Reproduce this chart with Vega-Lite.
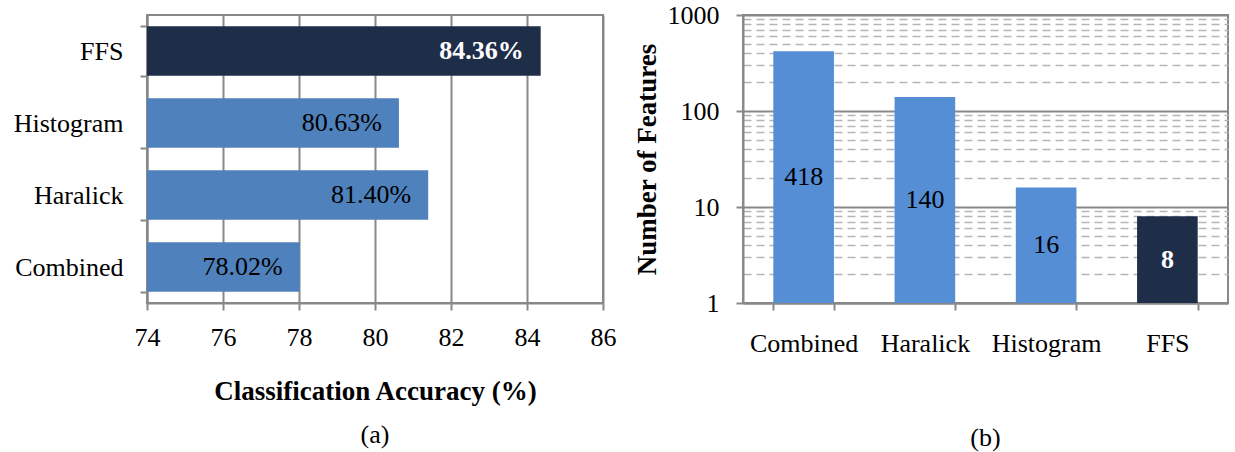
{
  "$schema": "https://vega.github.io/schema/vega-lite/v6.json",
  "background": "white",
  "padding": {"left": 12, "top": 1, "right": 5, "bottom": 5},
  "bounds": "flush",
  "spacing": 140,
  "datasets": {
    "results": [
      {"method": "Combined", "accuracy": 78.02, "label": "78.02%", "features": 418},
      {"method": "Haralick", "accuracy": 81.40, "label": "81.40%", "features": 140},
      {"method": "Histogram", "accuracy": 80.63, "label": "80.63%", "features": 16},
      {"method": "FFS", "accuracy": 84.36, "label": "84.36%", "features": 8}
    ]
  },
  "config": {
    "font": "Liberation Serif",
    "view": {"stroke": "#888888", "strokeWidth": 2},
    "axis": {
      "labelFont": "Liberation Serif",
      "labelFontSize": 26,
      "labelColor": "#000000",
      "titleFont": "Liberation Serif",
      "titleFontSize": 27,
      "titleFontWeight": "bold",
      "titleColor": "#000000",
      "domainColor": "#888888",
      "domainWidth": 2,
      "tickColor": "#888888",
      "tickWidth": 2,
      "tickSize": 7,
      "labelPadding": 17
    }
  },
  "hconcat": [
    {
      "width": 456,
      "height": 288,
      "data": {"name": "results"},
      "title": {"text": "(a)", "orient": "bottom", "offset": 18, "fontSize": 26, "font": "Liberation Serif", "fontWeight": "normal", "anchor": "middle", "color": "#000000"},
      "layer": [
        {
          "mark": {"type": "bar", "clip": true},
          "encoding": {
            "y": {"field": "method", "type": "nominal", "sort": ["FFS", "Histogram", "Haralick", "Combined"],
                  "scale": {"paddingInner": 0.31, "paddingOuter": 0.155},
                  "axis": {"title": null, "tickBand": "extent", "grid": false, "labelPadding": 17}},
            "x": {"field": "accuracy", "type": "quantitative",
                  "scale": {"domain": [74, 86], "zero": false, "nice": false},
                  "axis": {"values": [74, 76, 78, 80, 82, 84, 86], "title": "Classification Accuracy (%)", "grid": true, "gridColor": "#888888", "gridWidth": 2, "labelPadding": 14, "titlePadding": 28, "labelFlush": false}},
            "color": {"condition": {"test": "datum.method === 'FFS'", "value": "#1F2E48"}, "value": "#4F81BD"}
          }
        },
        {
          "transform": [{"filter": "datum.method !== 'FFS'"}],
          "mark": {"type": "text", "align": "right", "baseline": "middle", "dx": -17, "fontSize": 26, "font": "Liberation Serif", "color": "#000000"},
          "encoding": {
            "y": {"field": "method", "type": "nominal", "sort": ["FFS", "Histogram", "Haralick", "Combined"]},
            "x": {"field": "accuracy", "type": "quantitative"},
            "text": {"field": "label"}
          }
        },
        {
          "transform": [{"filter": "datum.method === 'FFS'"}],
          "mark": {"type": "text", "align": "right", "baseline": "middle", "dx": -17, "fontSize": 26, "font": "Liberation Serif", "fontWeight": "bold", "color": "#FFFFFF"},
          "encoding": {
            "y": {"field": "method", "type": "nominal", "sort": ["FFS", "Histogram", "Haralick", "Combined"]},
            "x": {"field": "accuracy", "type": "quantitative"},
            "text": {"field": "label"}
          }
        }
      ]
    },
    {
      "width": 485,
      "height": 288,
      "data": {"name": "results"},
      "title": {"text": "(b)", "orient": "bottom", "offset": 69, "fontSize": 26, "font": "Liberation Serif", "fontWeight": "normal", "anchor": "middle", "color": "#000000"},
      "layer": [
        {
          "mark": {"type": "bar"},
          "encoding": {
            "x": {"field": "method", "type": "nominal", "sort": ["Combined", "Haralick", "Histogram", "FFS"],
                  "scale": {"paddingInner": 0.5, "paddingOuter": 0.25},
                  "axis": {"title": null, "labelAngle": 0, "tickBand": "extent", "labelPadding": 20}},
            "y": {"field": "features", "type": "quantitative",
                  "scale": {"type": "log", "domain": [1, 1000], "nice": false},
                  "axis": {
                    "title": "Number of Features",
                    "titlePadding": 6,
                    "values": [1, 2, 3, 4, 5, 6, 7, 8, 9, 10, 20, 30, 40, 50, 60, 70, 80, 90, 100, 200, 300, 400, 500, 600, 700, 800, 900, 1000],
                    "labelExpr": "indexof([1, 10, 100, 1000], datum.value) >= 0 ? format(datum.value, 'd') : ''",
                    "labelOverlap": false,
                    "labelBound": false,
                    "labelFlush": false,
                    "labelPadding": 17,
                    "grid": true,
                    "gridColor": {"condition": {"test": "indexof([1, 10, 100, 1000], datum.value) >= 0", "value": "#888888"}, "value": "#b5b5b5"},
                    "gridWidth": {"condition": {"test": "indexof([1, 10, 100, 1000], datum.value) >= 0", "value": 2}, "value": 1.5},
                    "gridDash": {"condition": {"test": "indexof([1, 10, 100, 1000], datum.value) >= 0", "value": []}, "value": [8, 5]},
                    "tickOpacity": {"condition": {"test": "indexof([1, 10, 100, 1000], datum.value) >= 0", "value": 1}, "value": 0}
                  }},
            "y2": {"datum": 1},
            "color": {"condition": {"test": "datum.method === 'FFS'", "value": "#1F2E48"}, "value": "#558ED5"}
          }
        },
        {
          "transform": [{"filter": "datum.method !== 'FFS'"}],
          "mark": {"type": "text", "align": "center", "baseline": "middle", "fontSize": 26, "font": "Liberation Serif", "color": "#000000"},
          "encoding": {
            "x": {"field": "method", "type": "nominal", "sort": ["Combined", "Haralick", "Histogram", "FFS"]},
            "y": {"field": "features", "type": "quantitative", "scale": {"type": "log", "domain": [1, 1000000], "nice": false}, "axis": null},
            "text": {"field": "features"}
          }
        },
        {
          "transform": [{"filter": "datum.method === 'FFS'"}],
          "mark": {"type": "text", "align": "center", "baseline": "middle", "fontSize": 26, "font": "Liberation Serif", "fontWeight": "bold", "color": "#FFFFFF"},
          "encoding": {
            "x": {"field": "method", "type": "nominal", "sort": ["Combined", "Haralick", "Histogram", "FFS"]},
            "y": {"field": "features", "type": "quantitative", "scale": {"type": "log", "domain": [1, 1000000], "nice": false}, "axis": null},
            "text": {"field": "features"}
          }
        }
      ],
      "resolve": {"scale": {"y": "independent"}}
    }
  ]
}
